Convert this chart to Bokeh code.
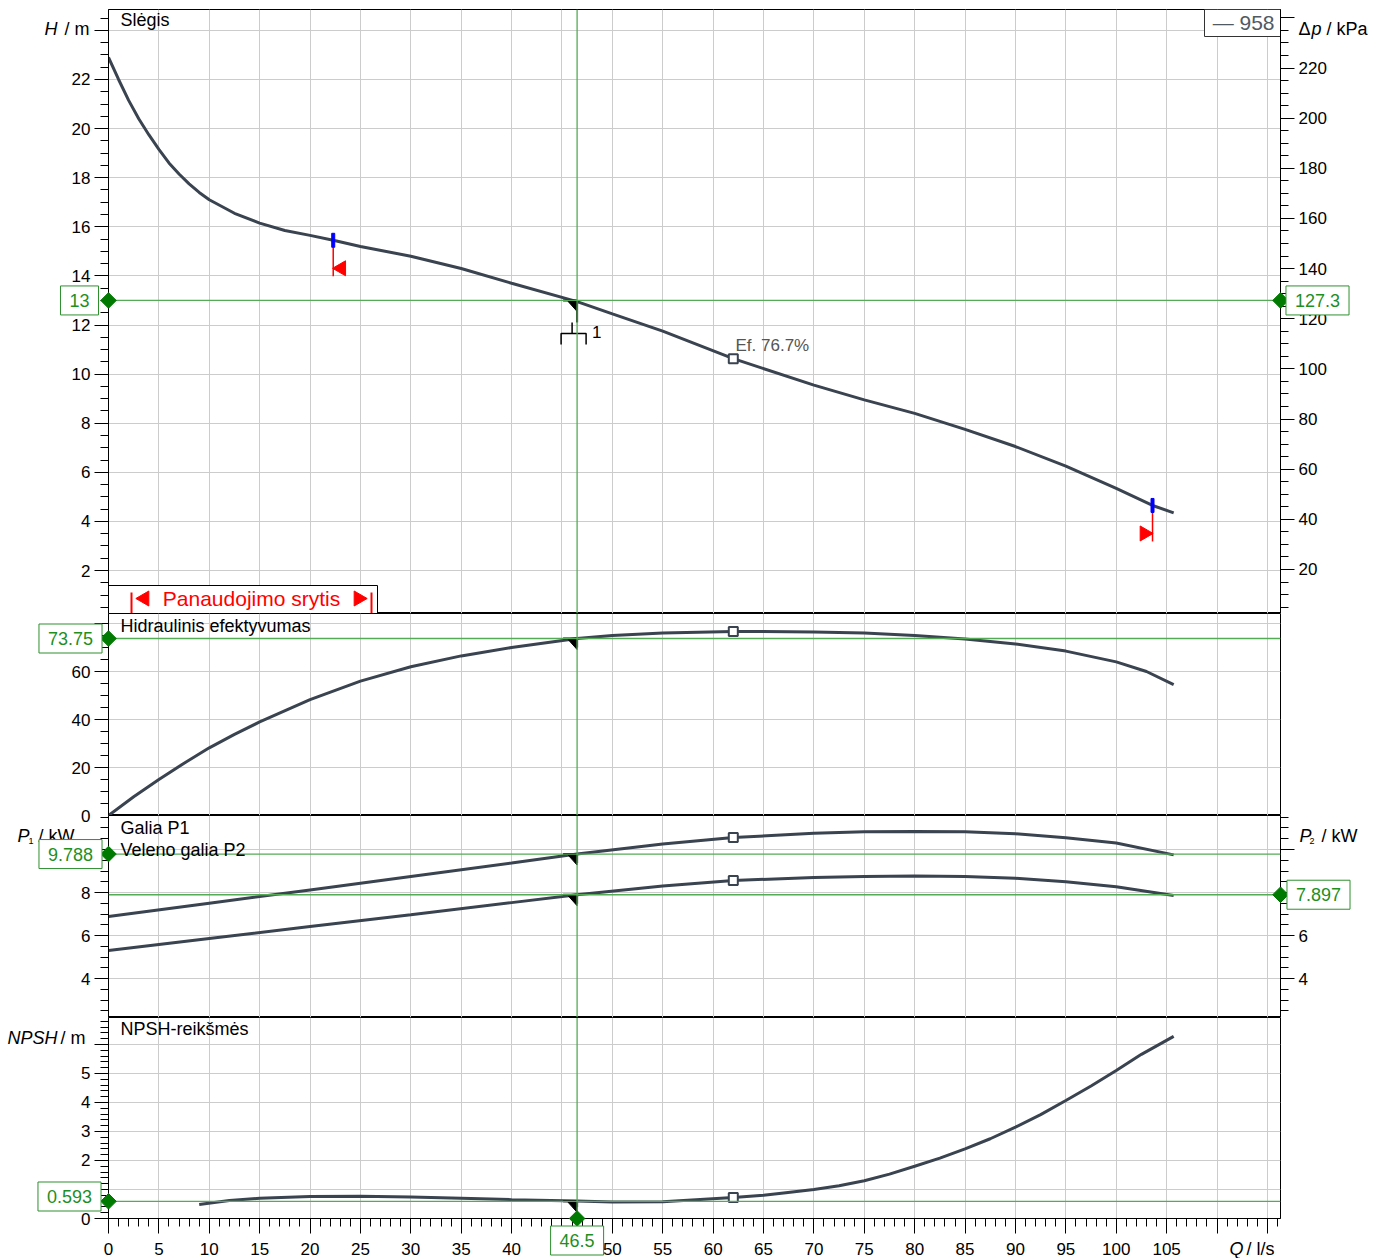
import math
from bokeh.plotting import figure
from bokeh.models import Range1d, LinearAxis, FixedTicker, Span, Label, Grid, GridBox
from bokeh.embed import file_html
from bokeh.resources import INLINE

# ---------------- data ----------------
q_head = [0, 1, 2, 3, 4, 5, 6, 7, 8, 9, 10, 12.5, 15, 17.5, 20, 22.3, 25, 30, 35, 40, 46.5, 50, 55, 62, 70, 75, 80, 85, 90, 95, 100, 103.6, 105.7]
h_head = [22.9, 22.0, 21.15, 20.4, 19.75, 19.15, 18.6, 18.15, 17.75, 17.4, 17.1, 16.55, 16.15, 15.85, 15.65, 15.45, 15.2, 14.8, 14.3, 13.7, 12.95, 12.45, 11.75, 10.63, 9.55, 8.95, 8.4, 7.75, 7.05, 6.25, 5.35, 4.65, 4.35]

q_eff = [0, 2.5, 5, 7.5, 10, 12.5, 15, 20, 25, 30, 35, 40, 46.5, 50, 55, 62, 70, 75, 80, 85, 90, 95, 100, 103, 105.7]
eff_pct = [0, 7.8, 15.0, 21.8, 28.2, 33.8, 39.0, 48.3, 56, 62, 66.5, 70, 73.75, 75, 76, 76.7, 76.5, 76, 75, 73.5, 71.5, 68.5, 64, 60, 54.5]

q_pow = [0, 10, 20, 30, 40, 46.5, 55, 62, 70, 75, 80, 85, 90, 95, 100, 105.7]
p1_kw = [6.88, 7.5, 8.12, 8.74, 9.37, 9.788, 10.25, 10.56, 10.75, 10.82, 10.84, 10.82, 10.73, 10.55, 10.3, 9.75]
p2_kw = [5.3, 5.86, 6.42, 6.97, 7.53, 7.897, 8.3, 8.56, 8.7, 8.75, 8.77, 8.75, 8.66, 8.5, 8.27, 7.86]

q_npsh = [9, 12, 15, 20, 25, 30, 35, 40, 46.5, 50, 55, 62, 65, 67, 70, 72.5, 75, 77.5, 80, 82.5, 85, 87.5, 90, 92.5, 95, 97.5, 100, 102.5, 105.7]
npsh_m = [0.48, 0.62, 0.7, 0.76, 0.77, 0.74, 0.7, 0.65, 0.6, 0.57, 0.58, 0.72, 0.8, 0.88, 1.0, 1.13, 1.3, 1.53, 1.8, 2.08, 2.4, 2.75, 3.15, 3.58, 4.07, 4.57, 5.1, 5.66, 6.28]

# operating point
q_op = 46.5
h_op = 13.0
dp_op = 127.3
eff_op = 73.75
p1_op = 9.788
p2_op = 7.897
npsh_op = 0.593

# best efficiency point markers
q_bep = 62.0
h_bep = 10.63
eff_bep = 76.7
p1_bep = 10.56
p2_bep = 8.56
npsh_bep = 0.72

# operating range limits
q_min, h_min = 22.3, 15.45
q_max, h_max = 103.6, 4.65

legend_label = "958"
kpa_per_m = dp_op / h_op

x_ticks = list(range(0, 116, 5))
x_minor = list(range(0, 117))
h_ticks = list(range(2, 25, 2))
h_minor = [i * 0.5 for i in range(1, 50)]
kpa_ticks = list(range(20, 241, 20))
kpa_minor = list(range(5, 245, 5))
eff_ticks = [0, 20, 40, 60, 80]
eff_minor = list(range(0, 85, 5))
pow_ticks = [4, 6, 8, 10]
pow_minor = [2.5 + i * 0.5 for i in range(19)]
npsh_ticks = [0, 1, 2, 3, 4, 5, 6]
npsh_minor = [round(i * 0.2, 1) for i in range(0, 35)]

# ---------------- layout constants ----------------
W = 1376
HT = 1258
BL, BR = 108, 96
FW = 1172
XR = (0.0, 116.3)
XS = (XR[1] - XR[0]) / FW          # data units per pixel in x

# panel ranges and page positions (lo, hi, top_px, bottom_px)
PAN = {
    1: (0.25, 24.85, 9, 613),
    2: (0.0, 84.17, 613, 815),
    3: (2.19, 11.58, 815, 1017),
    4: (0.0, 6.93, 1017, 1218),
}

CURVE = "#3a4350"
GRID_C = "#cccccc"
G_LINE = "#55aa55"
G_TXT = "#1f8f1f"
G_BOX = "#2f8f2f"
G_DIA = "#007a00"
FONT = "Liberation Sans"


def xd(px):
    return XR[0] + (px - BL) * XS


def yd(k, py):
    lo, hi, top, bot = PAN[k]
    return lo + (bot - py) * (hi - lo) / (bot - top)


def ys(k):
    lo, hi, top, bot = PAN[k]
    return (hi - lo) / (bot - top)


def make_fig(k, height, top, bottom, xaxis):
    lo, hi, _, _ = PAN[k]
    p = figure(width=W, height=height, title=None,
               x_range=Range1d(*XR), y_range=Range1d(lo, hi),
               output_backend="svg", toolbar_location=None,
               min_border_left=BL, min_border_right=BR,
               min_border_top=top, min_border_bottom=bottom,
               x_axis_location="below" if xaxis else None, y_axis_location="left",
               outline_line_color="black", outline_line_width=1,
               background_fill_color="white", border_fill_color="white")
    p.grid.visible = False
    return p


def style_axis(ax, ticks, minor, overrides, out=14, mout=8):
    ax.ticker = FixedTicker(ticks=ticks, minor_ticks=minor)
    ax.major_label_overrides = overrides
    ax.major_tick_out = out
    ax.major_tick_in = 0
    ax.minor_tick_out = mout
    ax.minor_tick_in = 0
    ax.major_label_text_font = FONT
    ax.major_label_text_font_size = "17px"
    ax.major_label_text_color = "black"
    ax.major_label_standoff = 4
    ax.axis_line_color = "black"
    ax.major_tick_line_color = "black"
    ax.minor_tick_line_color = "black"


def add_grids(p, yticks):
    p.add_layout(Grid(dimension=0, ticker=FixedTicker(ticks=x_ticks[1:]),
                      grid_line_color=GRID_C, grid_line_width=1), "center")
    p.add_layout(Grid(dimension=1, ticker=FixedTicker(ticks=yticks),
                      grid_line_color=GRID_C, grid_line_width=1), "center")


def txt(p, x, y, s, size="17px", color="black", align="left", baseline="middle",
        style="normal", font=FONT, yr="default"):
    p.add_layout(Label(x=x, y=y, text=s, text_font_size=size, text_color=color,
                       text_align=align, text_baseline=baseline, text_font_style=style,
                       text_font=font, y_range_name=yr))


def hook(p, k, yv, tail):
    s = ys(k)
    p.segment(x0=[q_op - 14 * XS], y0=[yv], x1=[q_op], y1=[yv], line_color="black", line_width=2)
    p.patch(x=[q_op - 9 * XS, q_op, q_op], y=[yv - 1 * s, yv - 1 * s, yv - 11 * s], color="black")
    p.segment(x0=[q_op], y0=[yv], x1=[q_op], y1=[yv - tail * s], line_color="black", line_width=2)


def vspan(p):
    p.add_layout(Span(location=q_op, dimension="height", line_color=G_LINE, line_width=1.3))


def hspan(p, yv):
    p.add_layout(Span(location=yv, dimension="width", line_color=G_LINE, line_width=1.3))


# ---------------- panel 1 : head ----------------
p1 = make_fig(1, 613, 9, 0, False)
add_grids(p1, h_ticks)
style_axis(p1.yaxis[0], h_ticks, h_minor, {24: ""})
p1.extra_y_ranges = {"kpa": Range1d(PAN[1][0] * kpa_per_m, PAN[1][1] * kpa_per_m)}
ax_r = LinearAxis(y_range_name="kpa")
style_axis(ax_r, kpa_ticks, kpa_minor, {240: ""})
p1.add_layout(ax_r, "right")

s1 = ys(1)
p1.quad(left=[xd(1204)], right=[XR[1]], top=[PAN[1][1]], bottom=[yd(1, 36)],
        fill_color="white", line_color="#333333", line_width=1)
p1.quad(left=[XR[0]], right=[xd(377)], top=[yd(1, 585)], bottom=[PAN[1][0]],
        fill_color="white", line_color="black", line_width=1)
p1.segment(x0=[xd(131), xd(371)], y0=[yd(1, 592)] * 2, x1=[xd(131), xd(371)], y1=[yd(1, 613)] * 2,
           line_color="red", line_width=2)
p1.scatter(x=[xd(144), xd(358)], y=[yd(1, 598)] * 2, marker="triangle", size=15,
           angle=[math.pi / 2, -math.pi / 2], color="red")

p1.line(q_head, h_head, line_color=CURVE, line_width=3)
p1.scatter([q_bep], [h_bep], marker="square", size=9, fill_color="white", line_color=CURVE, line_width=2)

for qv, hv, side in ((q_min, h_min, 1), (q_max, h_max, -1)):
    p1.segment(x0=[qv], y0=[hv - 7 * s1], x1=[qv], y1=[hv - 36 * s1], line_color="red", line_width=1.5)
    p1.rect(x=[qv], y=[hv], width=3, height=14, width_units="screen", height_units="screen",
            color="blue")
    p1.scatter(x=[qv + side * 8 * XS], y=[hv - 28 * s1], marker="triangle", size=15,
               angle=side * math.pi / 2, color="red")

hook(p1, 1, h_op, 22)
p1.multi_line(xs=[[q_op - 5 * XS, q_op - 5 * XS],
                  [q_op - 16 * XS, q_op - 16 * XS, q_op + 9 * XS, q_op + 9 * XS]],
              ys=[[h_op - 22 * s1, h_op - 33 * s1],
                  [h_op - 44 * s1, h_op - 33 * s1, h_op - 33 * s1, h_op - 44 * s1]],
              line_color="black", line_width=1.5)
vspan(p1)
hspan(p1, h_op)
txt(p1, q_op + 15 * XS, h_op - 32 * s1, "1", size="17px")
txt(p1, xd(120), yd(1, 19), "Slėgis", size="18px")
txt(p1, xd(735), yd(1, 345), "Ef.  76.7%", size="17px", color="#555555")
txt(p1, xd(1274), yd(1, 22), "\u2014 " + legend_label, size="21px", color="#505a64", align="right")
txt(p1, xd(251), yd(1, 598), "Panaudojimo srytis", size="21px", color="red", align="center")

# ---------------- panel 2 : efficiency ----------------
p2 = make_fig(2, 202, 0, 0, False)
add_grids(p2, eff_ticks[1:])
style_axis(p2.yaxis[0], eff_ticks, eff_minor, {0: "", 80: ""})
p2.line(q_eff, eff_pct, line_color=CURVE, line_width=3)
p2.scatter([q_bep], [eff_bep], marker="square", size=9, fill_color="white", line_color=CURVE, line_width=2)
hook(p2, 2, eff_op, 9)
vspan(p2)
hspan(p2, eff_op)
txt(p2, xd(120), yd(2, 625), "Hidraulinis efektyvumas", size="18px")

# ---------------- panel 3 : power ----------------
p3 = make_fig(3, 202, 0, 0, False)
add_grids(p3, pow_ticks)
style_axis(p3.yaxis[0], pow_ticks, pow_minor, {})
ax_r3 = LinearAxis()
style_axis(ax_r3, pow_ticks, pow_minor, {10: ""})
p3.add_layout(ax_r3, "right")
p3.line(q_pow, p1_kw, line_color=CURVE, line_width=3)
p3.line(q_pow, p2_kw, line_color=CURVE, line_width=3)
p3.scatter([q_bep, q_bep], [p1_bep, p2_bep], marker="square", size=9, fill_color="white",
           line_color=CURVE, line_width=2)
hook(p3, 3, p1_op, 9)
hook(p3, 3, p2_op, 9)
vspan(p3)
hspan(p3, p1_op)
hspan(p3, p2_op)
txt(p3, xd(120), yd(3, 827), "Galia P1", size="18px")
txt(p3, xd(120), yd(3, 849), "Veleno galia P2", size="18px")

# ---------------- panel 4 : NPSH ----------------
p4 = make_fig(4, 241, 0, 40, True)
add_grids(p4, npsh_ticks[1:])
style_axis(p4.yaxis[0], npsh_ticks, npsh_minor, {6: ""})
style_axis(p4.xaxis[0], x_ticks, x_minor, {110: "", 115: ""}, out=15, mout=8)
p4.xaxis[0].major_label_standoff = 9
p4.line(q_npsh, npsh_m, line_color=CURVE, line_width=3)
p4.scatter([q_bep], [npsh_bep], marker="square", size=9, fill_color="white", line_color=CURVE, line_width=2)
hook(p4, 4, npsh_op, 6)
vspan(p4)
hspan(p4, npsh_op)
txt(p4, xd(120), yd(4, 1028), "NPSH-reikšmės", size="18px")

# ---------------- transparent overlay for texts outside the frames ----------------
ov = figure(width=W, height=HT, title=None, x_range=Range1d(xd(0), xd(W)),
            y_range=Range1d(0, 1), output_backend="svg", toolbar_location=None,
            min_border=0, min_border_left=0, min_border_right=0, min_border_top=0,
            min_border_bottom=0, x_axis_location=None, y_axis_location=None,
            outline_line_color=None, background_fill_alpha=0, border_fill_alpha=0)
try:
    ov.frame_align = False
except Exception:
    pass
ov.grid.visible = False
ext = {}
for k, (lo, hi, top, bot) in PAN.items():
    ppu = (bot - top) / (hi - lo)
    ext["p%d" % k] = Range1d(lo - (HT - bot) / ppu, hi + top / ppu)
ov.extra_y_ranges = ext


def boxlabel(x, y, s, yr):
    lab = Label(x=x, y=y, text=s, text_font_size="18px", text_color=G_TXT,
                text_align="center", text_baseline="middle", text_font=FONT,
                border_line_color=G_BOX, border_line_width=1,
                background_fill_color="white", background_fill_alpha=1.0,
                y_range_name=yr)
    try:
        lab.padding = (9, 8)
    except Exception:
        lab.padding = 6
    ov.add_layout(lab)


def diamond(x, y, yr):
    ov.scatter([x], [y], marker="square", angle=math.pi / 4, size=11,
               color=G_DIA, y_range_name=yr)


# axis titles
txt(ov, xd(57), yd(1, 28), "H", size="18px", align="right", style="italic", yr="p1")
txt(ov, xd(89), yd(1, 28), "/ m", size="18px", align="right", yr="p1")
txt(ov, xd(1298), yd(1, 28), "\u0394", size="18px", yr="p1")
txt(ov, xd(1311), yd(1, 28), "p", size="18px", style="italic", yr="p1")
txt(ov, xd(1326), yd(1, 28), "/ kPa", size="18px", yr="p1")
txt(ov, xd(90), 0, "0", size="17px", align="right", yr="p2")
txt(ov, xd(17), yd(3, 835), "P", size="18px", style="italic", yr="p3")
txt(ov, xd(28), yd(3, 840), "1", size="9px", yr="p3")
txt(ov, xd(38), yd(3, 835), "/ kW", size="18px", yr="p3")
txt(ov, xd(1299), yd(3, 835), "P", size="18px", style="italic", yr="p3")
txt(ov, xd(1309), yd(3, 840), "2", size="9px", yr="p3")
txt(ov, xd(1321), yd(3, 835), "/ kW", size="18px", yr="p3")
txt(ov, xd(7), yd(4, 1037), "NPSH", size="18px", style="italic", yr="p4")
txt(ov, xd(60), yd(4, 1037), "/ m", size="18px", yr="p4")
txt(ov, xd(1229), yd(4, 1248), "Q", size="18px", style="italic", yr="p4")
txt(ov, xd(1246), yd(4, 1248), "/ l/s", size="18px", yr="p4")

# operating-point value boxes and diamonds
boxlabel(xd(79), h_op, "13", "p1")
boxlabel(xd(1317), h_op, str(dp_op), "p1")
boxlabel(xd(70), eff_op, str(eff_op), "p2")
boxlabel(xd(70), p1_op, str(p1_op), "p3")
boxlabel(xd(1318), p2_op, str(p2_op), "p3")
boxlabel(xd(69), yd(4, 1196), str(npsh_op), "p4")
boxlabel(q_op, yd(4, 1240), str(q_op), "p4")
diamond(XR[0], h_op, "p1")
diamond(XR[1], h_op, "p1")
diamond(XR[0], eff_op, "p2")
diamond(XR[0], p1_op, "p3")
diamond(XR[1], p2_op, "p3")
diamond(XR[0], npsh_op, "p4")
diamond(q_op, 0.0, "p4")

layout = GridBox(children=[(p1, 0, 0), (p2, 1, 0), (p3, 2, 0), (p4, 3, 0), (ov, 0, 0, 4, 1)],
                 spacing=0)
open("out.html", "w").write(file_html(layout, INLINE))
